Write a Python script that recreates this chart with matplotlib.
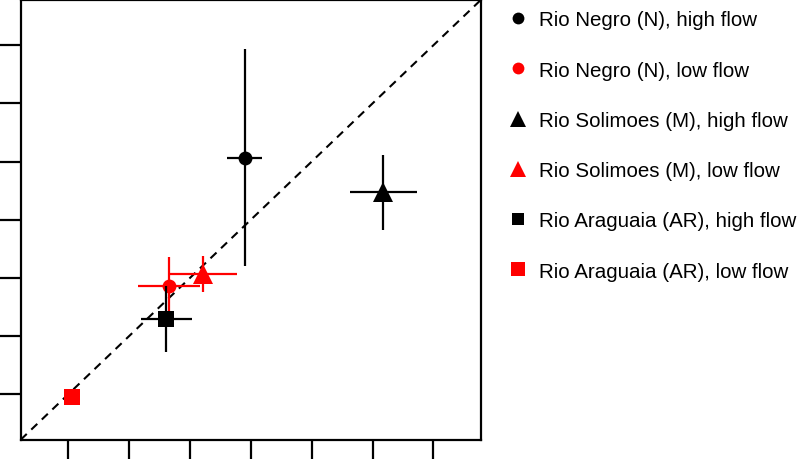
import numpy as np
import matplotlib
matplotlib.use('Agg')
import matplotlib.pyplot as plt
from matplotlib.lines import Line2D

plt.rcParams['font.family'] = ['Liberation Sans', 'DejaVu Sans']

# data (no axis labels shown, arbitrary units)
labels = ["Rio Negro (N), high flow", "Rio Negro (N), low flow",
          "Rio Solimoes (M), high flow", "Rio Solimoes (M), low flow",
          "Rio Araguaia (AR), high flow", "Rio Araguaia (AR), low flow"]
x_vals = [3.90, 2.65, 6.18, 3.22, 2.61, 1.07]
y_vals = [5.07, 2.87, 4.47, 3.07, 2.30, 0.96]
x_err = [0.29, 0.51, 0.55, 0.55, 0.42, 0.0]
y_err = [1.86, 0.49, 0.65, 0.31, 0.57, 0.0]
colors = ["black", "red", "black", "red", "black", "red"]
markers = ["o", "o", "^", "^", "s", "s"]
marker_sizes = [10, 10, 14, 14, 11, 12]
lims = (0.22, 7.78)
ticks = [1, 2, 3, 4, 5, 6, 7]

fig = plt.figure(figsize=(8.03, 4.6), dpi=100)
ax = fig.add_axes([0.0258, 0.042, 0.573, 0.956])

# 1:1 reference line
ax.plot(lims, lims, color='black', lw=1.5, dashes=(4, 3), zorder=1)

for i in range(len(labels)):
    if x_err[i] > 0 or y_err[i] > 0:
        ax.errorbar(x_vals[i], y_vals[i], xerr=x_err[i], yerr=y_err[i],
                    fmt='none', ecolor=colors[i], elinewidth=1.6, capsize=0, zorder=2 + i)
    ax.plot(x_vals[i], y_vals[i], marker=markers[i], color=colors[i],
            ms=marker_sizes[i], mew=0, ls='none', zorder=2 + i)

ax.set_xlim(lims)
ax.set_ylim(lims)
ax.set_xticks(ticks)
ax.set_yticks(ticks)
ax.set_xticklabels([])
ax.set_yticklabels([])
ax.tick_params(direction='out', length=16, width=1.6, color='black')
for sp in ax.spines.values():
    sp.set_linewidth(1.6)

handles = [Line2D([], [], marker=m, color=c, ls='none', ms=s * 0.85, mew=0)
           for m, c, s in zip(markers, colors, marker_sizes)]
fig.legend(handles, labels, loc='upper left', bbox_to_anchor=(0.612, 1.011),
           frameon=False, fontsize=14.8, labelspacing=1.52, handletextpad=0.5,
           handlelength=1.0, borderpad=0.3)

fig.savefig('out.png', dpi=100)
